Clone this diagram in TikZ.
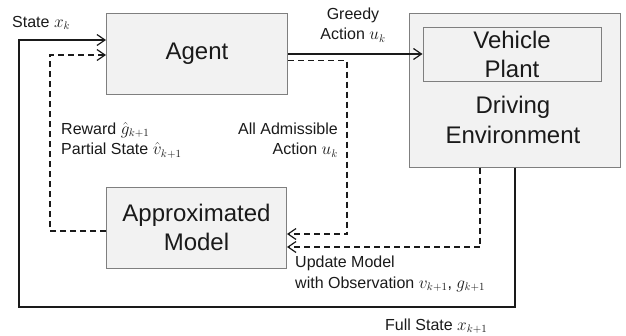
\documentclass[tikz,border=0pt]{standalone}
\usepackage{fontspec}
\setmainfont{Liberation Sans}
\usetikzlibrary{arrows.meta}
\definecolor{boxfill}{HTML}{F2F2F2}
\definecolor{boxline}{HTML}{7F7F7F}
\definecolor{txt}{HTML}{1A1A1A}
\tikzset{
  blk/.style={draw=boxline, fill=boxfill, line width=1pt, inner sep=0pt, align=center,
    font=\fontsize{24}{29}\selectfont, text=txt},
  lbl/.style={font=\fontsize{16}{20.5}\selectfont, text=txt, inner sep=0pt},
  conn/.style={line width=1.3pt, draw=txt, -{Straight Barb[length=8pt,width=11pt,line width=1.2pt]}},
  dconn/.style={conn, dash pattern=on 6pt off 4pt},
}
\begin{document}
\begin{tikzpicture}[x=1pt,y=-1pt]
\useasboundingbox (0,0) rectangle (626,335);
% boxes
\node[blk, minimum width=181pt, minimum height=81pt] (agent) at (197,53.5) {Agent};
\node[blk, minimum width=211pt, minimum height=154pt] (env) at (515,90) {};
\node[blk, minimum width=178pt, minimum height=54pt] (veh) at (512,54) {Vehicle\\Plant};
\node[font=\fontsize{24}{30}\selectfont, text=txt, align=center, inner sep=0pt] (drv) at (513,120) {Driving\\Environment};
\node[blk, minimum width=180pt, minimum height=81pt] (model) at (196.5,227.5) {Approximated\\Model};
% helper coordinates
\coordinate (bl) at (19,307);
\coordinate (tl) at (50,231);
\coordinate (ar) at (347,60.5);
\coordinate (er) at (480,247);
% full state loop
\draw[conn] (env.south) |- (bl) |- ([yshift=13.5pt]agent.west);
% greedy action
\draw[conn] (veh.west -| agent.east) -- (veh.west);
% all admissible action
\draw[dconn] ([yshift=-7pt]agent.east) -| (ar |- 0,234) -- ([yshift=-6.5pt]model.east);
% observation update
\draw[dconn] (env.south -| er) |- ([yshift=-19.5pt]model.east);
% reward / partial state
\draw[dconn] ([yshift=-3.5pt]model.west) -| (tl |- 0,55) -- ([yshift=-1.5pt]agent.west);
% labels
\node[lbl, anchor=west] (lstate) at (12,23) {State $x_k$};
\node[lbl, align=center] (lgreedy) at (353,25) {Greedy\\Action $u_k$};
\node[lbl, align=left, anchor=west] (lreward) at (61,140) {Reward $\hat{g}_{k+1}$\\Partial State $\hat{v}_{k+1}$};
\node[lbl, align=right, anchor=east] (ladm) at (338,140) {All Admissible\\Action $u_k$};
\node[lbl, align=left, anchor=west] (lupd) at (295,274) {Update Model\\with Observation $v_{k+1}$, $g_{k+1}$};
\node[lbl, anchor=west] (lfull) at (385,326) {Full State $x_{k+1}$};
\end{tikzpicture}
\end{document}
